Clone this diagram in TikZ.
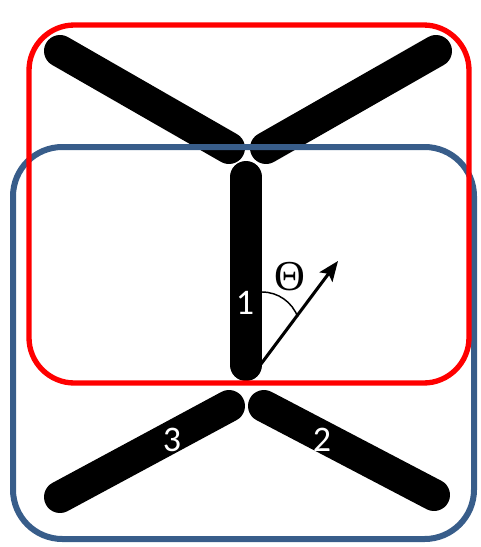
\documentclass[tikz,border=0pt]{standalone}
\usepackage{fontspec}
\setmainfont{Carlito}
\newfontfamily\thetafont{Liberation Serif}
\usetikzlibrary{arrows.meta}
\definecolor{framered}{RGB}{255,0,0}
\definecolor{frameblue}{RGB}{56,93,138}
\begin{document}
\begin{tikzpicture}[
        x=0.75pt, y=-0.75pt,
        rod/.style={line width=24pt, line cap=round},
        frame/.style={line width=4pt, rounded corners=34pt},
        lbl/.style={text=white, font=\fontsize{27}{27}\selectfont},
    ]
    \useasboundingbox (0,0) rectangle (480,547);
    % rod end points
    \coordinate (tl) at (60,51);
    \coordinate (tlin) at (229,148);
    \coordinate (tr) at (436,51);
    \coordinate (trin) at (266,148);
    \coordinate (ctop) at (246,177);
    \coordinate (cbot) at (246,365);
    \coordinate (bl) at (60,497);
    \coordinate (blin) at (229,406);
    \coordinate (br) at (434,495);
    \coordinate (brin) at (264,406);
    % rods
    \draw[rod] (tl) -- (tlin);
    \draw[rod] (tr) -- (trin);
    \draw[rod] (ctop) -- (cbot);
    \draw[rod] (bl) -- (blin);
    \draw[rod] (br) -- (brin);
    % frames
    \draw[frame, frameblue, line width=4.5pt, rounded corners=37pt] (13,147) rectangle (474,539);
    \draw[frame, framered] (29,25) rectangle (469,383);
    % direction vector and angle
    \coordinate (vstart) at (258,368);
    \coordinate (vend) at (338,261);
    \draw[-{Stealth[length=15pt, width=12pt, inset=3pt]}, line width=2.3pt] (vstart) -- (vend);
    \draw[line width=1.1pt] (262,292) arc[start angle=-90, end angle=-20, radius=38];
    \node (theta) at (290,277) {\thetafont\fontsize{32}{32}\selectfont Θ};
    % rod labels
    \node[lbl] (one) at (245,303) {1};
    \node[lbl] (three) at (172,440) {3};
    \node[lbl] (two) at (322,440) {2};
\end{tikzpicture}
\end{document}
